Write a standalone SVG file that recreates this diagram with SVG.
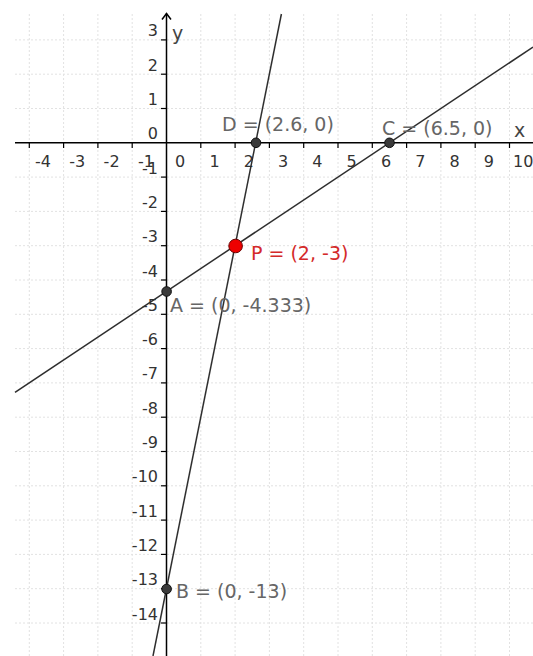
<svg xmlns="http://www.w3.org/2000/svg" width="533" height="656" viewBox="0 0 533 656">
<style>
.grid line{stroke:#e2e2e2;stroke-width:1;stroke-dasharray:2 2}
.axis{stroke:#000;stroke-width:1.5;fill:none}
.tick{stroke:#000;stroke-width:1.2}
.tl{font-family:"DejaVu Sans",sans-serif;font-size:16px;fill:#333}
.tx{text-anchor:middle}
.ty{text-anchor:end}
.ln{stroke:#2e2e2e;stroke-width:1.5;fill:none}
.pt{fill:#3a3a3a;stroke:#111;stroke-width:1}
.lab{font-family:"DejaVu Sans",sans-serif;font-size:19px;fill:#666}
</style>
<rect width="533" height="656" fill="#fff"/>
<g class="grid" id="grid">
<line x1="29.3" y1="14" x2="29.3" y2="656"/><line x1="63.6" y1="14" x2="63.6" y2="656"/><line x1="97.9" y1="14" x2="97.9" y2="656"/><line x1="132.2" y1="14" x2="132.2" y2="656"/><line x1="200.8" y1="14" x2="200.8" y2="656"/><line x1="235.1" y1="14" x2="235.1" y2="656"/><line x1="269.4" y1="14" x2="269.4" y2="656"/><line x1="303.7" y1="14" x2="303.7" y2="656"/><line x1="338" y1="14" x2="338" y2="656"/><line x1="372.3" y1="14" x2="372.3" y2="656"/><line x1="406.6" y1="14" x2="406.6" y2="656"/><line x1="440.9" y1="14" x2="440.9" y2="656"/><line x1="475.2" y1="14" x2="475.2" y2="656"/><line x1="509.5" y1="14" x2="509.5" y2="656"/>
<line x1="15" y1="39.9" x2="533" y2="39.9"/><line x1="15" y1="74.2" x2="533" y2="74.2"/><line x1="15" y1="108.5" x2="533" y2="108.5"/><line x1="15" y1="177.1" x2="533" y2="177.1"/><line x1="15" y1="211.4" x2="533" y2="211.4"/><line x1="15" y1="245.7" x2="533" y2="245.7"/><line x1="15" y1="280" x2="533" y2="280"/><line x1="15" y1="314.3" x2="533" y2="314.3"/><line x1="15" y1="348.6" x2="533" y2="348.6"/><line x1="15" y1="382.9" x2="533" y2="382.9"/><line x1="15" y1="417.2" x2="533" y2="417.2"/><line x1="15" y1="451.5" x2="533" y2="451.5"/><line x1="15" y1="485.8" x2="533" y2="485.8"/><line x1="15" y1="520.1" x2="533" y2="520.1"/><line x1="15" y1="554.4" x2="533" y2="554.4"/><line x1="15" y1="588.7" x2="533" y2="588.7"/><line x1="15" y1="623" x2="533" y2="623"/>
</g>
<g id="axes">
<line class="axis" x1="15" y1="142.8" x2="533" y2="142.8"/>
<line class="axis" x1="166.5" y1="13.5" x2="166.5" y2="656"/>
<path class="axis" d="M162,19.5 L166.5,13.5 L171,19.5"/>
<g class="tick">
<line x1="29.3" y1="142.8" x2="29.3" y2="148"/><line x1="63.6" y1="142.8" x2="63.6" y2="148"/><line x1="97.9" y1="142.8" x2="97.9" y2="148"/><line x1="132.2" y1="142.8" x2="132.2" y2="148"/><line x1="200.8" y1="142.8" x2="200.8" y2="148"/><line x1="235.1" y1="142.8" x2="235.1" y2="148"/><line x1="269.4" y1="142.8" x2="269.4" y2="148"/><line x1="303.7" y1="142.8" x2="303.7" y2="148"/><line x1="338" y1="142.8" x2="338" y2="148"/><line x1="372.3" y1="142.8" x2="372.3" y2="148"/><line x1="406.6" y1="142.8" x2="406.6" y2="148"/><line x1="440.9" y1="142.8" x2="440.9" y2="148"/><line x1="475.2" y1="142.8" x2="475.2" y2="148"/><line x1="509.5" y1="142.8" x2="509.5" y2="148"/>
<line x1="161" y1="39.9" x2="166.5" y2="39.9"/><line x1="161" y1="74.2" x2="166.5" y2="74.2"/><line x1="161" y1="108.5" x2="166.5" y2="108.5"/><line x1="161" y1="177.1" x2="166.5" y2="177.1"/><line x1="161" y1="211.4" x2="166.5" y2="211.4"/><line x1="161" y1="245.7" x2="166.5" y2="245.7"/><line x1="161" y1="280" x2="166.5" y2="280"/><line x1="161" y1="314.3" x2="166.5" y2="314.3"/><line x1="161" y1="348.6" x2="166.5" y2="348.6"/><line x1="161" y1="382.9" x2="166.5" y2="382.9"/><line x1="161" y1="417.2" x2="166.5" y2="417.2"/><line x1="161" y1="451.5" x2="166.5" y2="451.5"/><line x1="161" y1="485.8" x2="166.5" y2="485.8"/><line x1="161" y1="520.1" x2="166.5" y2="520.1"/><line x1="161" y1="554.4" x2="166.5" y2="554.4"/><line x1="161" y1="588.7" x2="166.5" y2="588.7"/><line x1="161" y1="623" x2="166.5" y2="623"/>
</g>
<g class="tl tx">
<text x="43" y="166.5">-4</text><text x="77.3" y="166.5">-3</text><text x="111.6" y="166.5">-2</text><text x="145.9" y="166.5">-1</text><text x="180.2" y="166.5">0</text><text x="214.5" y="166.5">1</text><text x="248.8" y="166.5">2</text><text x="283.1" y="166.5">3</text><text x="317.4" y="166.5">4</text><text x="351.7" y="166.5">5</text><text x="386" y="166.5">6</text><text x="420.3" y="166.5">7</text><text x="454.6" y="166.5">8</text><text x="488.9" y="166.5">9</text><text x="523.2" y="166.5">10</text>
</g>
<g class="tl ty">
<text x="158" y="36.4">3</text><text x="158" y="70.7">2</text><text x="158" y="105">1</text><text x="158" y="139.3">0</text><text x="158" y="173.6">-1</text><text x="158" y="207.9">-2</text><text x="158" y="242.2">-3</text><text x="158" y="276.5">-4</text><text x="158" y="310.8">-5</text><text x="158" y="345.1">-6</text><text x="158" y="379.4">-7</text><text x="158" y="413.7">-8</text><text x="158" y="448">-9</text><text x="158" y="482.3">-10</text><text x="158" y="516.6">-11</text><text x="158" y="550.9">-12</text><text x="158" y="585.2">-13</text><text x="158" y="619.5">-14</text>
</g>
<text class="lab" x="172" y="40" style="fill:#444">y</text>
<text class="lab" x="514" y="136.5" style="fill:#444">x</text>
</g>
<g id="connectors">
<line class="ln" x1="15" y1="392.4" x2="533" y2="47.1"/>
<line class="ln" x1="281.4" y1="14" x2="153" y2="656"/>
</g>
<g id="D"><circle class="pt" cx="256" cy="142.8" r="4.8"/><text class="lab" x="222" y="131">D = (2.6, 0)</text></g>
<g id="C"><circle class="pt" cx="389.5" cy="142.8" r="4.8"/><text class="lab" x="382" y="135">C = (6.5, 0)</text></g>
<g id="A"><circle class="pt" cx="166.6" cy="291.5" r="4.8"/><text class="lab" x="170" y="311.5">A = (0, -4.333)</text></g>
<g id="B"><circle class="pt" cx="166.6" cy="589" r="4.8"/><text class="lab" x="176" y="598">B = (0, -13)</text></g>
<g id="P"><circle cx="235.6" cy="246" r="6.8" fill="#ee0000" stroke="#6a0000" stroke-width="1"/><text class="lab" x="251" y="260" style="fill:#d42a2a">P = (2, -3)</text></g>
</svg>
